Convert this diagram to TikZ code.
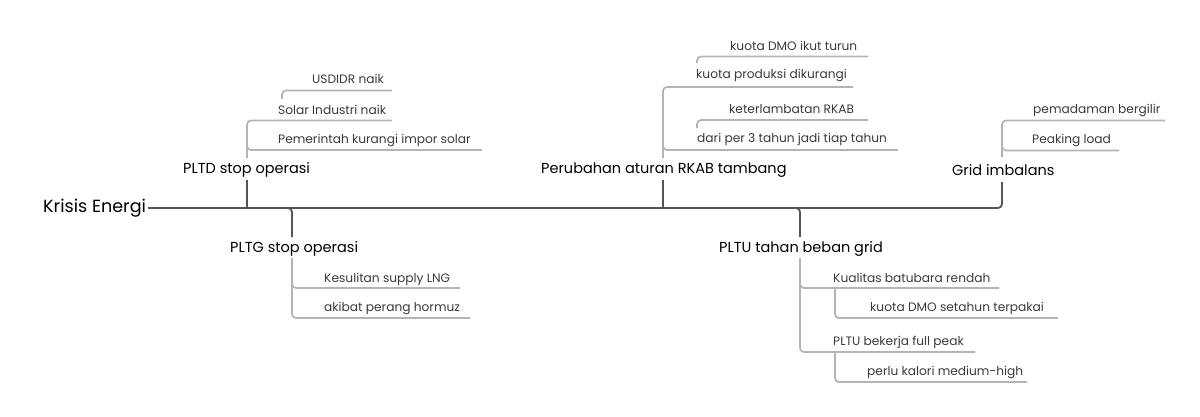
\documentclass[tikz,border=0pt]{standalone}
\usepackage{fontspec}
\setmainfont{Poppins}
\definecolor{dark}{HTML}{555555}
\definecolor{light}{HTML}{B4B4B4}
\definecolor{subtxt}{HTML}{3A3A3A}
\tikzset{
  rootlbl/.style={anchor=west,inner sep=0pt,font=\fontsize{17.6}{20}\selectfont,text=black},
  mainlbl/.style={anchor=west,inner sep=0pt,font=\fontsize{14.5}{17}\selectfont,text=black},
  sublbl/.style={anchor=west,inner sep=0pt,font=\fontsize{12.2}{14}\selectfont,text=subtxt},
  spine/.style={draw=dark,line width=1.8pt,rounded corners=4pt},
  twig/.style={draw=light,line width=1.7pt,rounded corners=4pt},
}
\begin{document}
\begin{tikzpicture}[x=1pt,y=-1pt]
\useasboundingbox (0,0) rectangle (1200,416);
% labels
\node[rootlbl] (root) at (43,208) {Krisis Energi};
\node[mainlbl] (pltd) at (183,170) {PLTD stop operasi};
\node[mainlbl] (rkab) at (541,170) {Perubahan aturan RKAB tambang};
\node[mainlbl] (grid) at (952,170) {Grid imbalans};
\node[mainlbl] (pltg) at (230,249) {PLTG stop operasi};
\node[mainlbl] (pltu) at (719,249) {PLTU tahan beban grid};
% PLTD children
\node[sublbl] (usd) at (312,79) {USDIDR naik};
\node[sublbl] (solar) at (278,110) {Solar Industri naik};
\node[sublbl] (pem) at (278,140) {Pemerintah kurangi impor solar};
% RKAB children
\node[sublbl] (dmo) at (730,46) {kuota DMO ikut turun};
\node[sublbl] (prod) at (696,76) {kuota produksi dikurangi};
\node[sublbl] (telat) at (729,109) {keterlambatan RKAB};
\node[sublbl] (dari) at (697,139) {dari per 3 tahun jadi tiap tahun};
% Grid children
\node[sublbl] (padam) at (1033,110.5) {pemadaman bergilir};
\node[sublbl] (peak) at (1032,140) {Peaking load};
% PLTG children
\node[sublbl] (lng) at (324,279) {Kesulitan supply LNG};
\node[sublbl] (horm) at (324,308) {akibat perang hormuz};
% PLTU children
\node[sublbl] (kual) at (833,278) {Kualitas batubara rendah};
\node[sublbl] (dmo2) at (870,308) {kuota DMO setahun terpakai};
\node[sublbl] (full) at (833,342) {PLTU bekerja full peak};
\node[sublbl] (kal) at (867,372) {perlu kalori medium-high};

% ---- spine and main branches
\draw[spine] (148,208) -- (1002,208) -- (1002,182);
\draw[spine] (247,208) -- (247,180);
\draw[spine] (663,208) -- (663,180);
\draw[spine] (207,208) -- (292,208) -- (292,237);
\draw[spine] (700,208) -- (800,208) -- (800,237);
% ---- PLTD
\draw[twig] (247,158) -- (247,120.5) -- (392,120.5);
\draw[twig] (247,140) -- (247,150) -- (482,150);
\draw[twig] (282,99) -- (282,90.5) -- (392,90.5);
% ---- RKAB
\draw[twig] (663,158) -- (663,87) -- (853,87);
\draw[twig] (663,140) -- (663,150) -- (898,150);
\draw[twig] (697,63) -- (697,56.5) -- (868,56.5);
\draw[twig] (697,128) -- (697,120) -- (868,120);
% ---- Grid
\draw[twig] (1002,157) -- (1002,120.5) -- (1165,120.5);
\draw[twig] (1002,140) -- (1002,150.5) -- (1119,150.5);
% ---- PLTG
\draw[twig] (292,258) -- (292,318) -- (470,318);
\draw[twig] (292,278) -- (292,288) -- (460,288);
% ---- PLTU
\draw[twig] (800,258) -- (800,352) -- (975,352);
\draw[twig] (800,278) -- (800,288) -- (999,288);
\draw[twig] (835,288) -- (835,318) -- (1058,318);
\draw[twig] (835,352) -- (835,382) -- (1027,382);
\end{tikzpicture}
\end{document}
